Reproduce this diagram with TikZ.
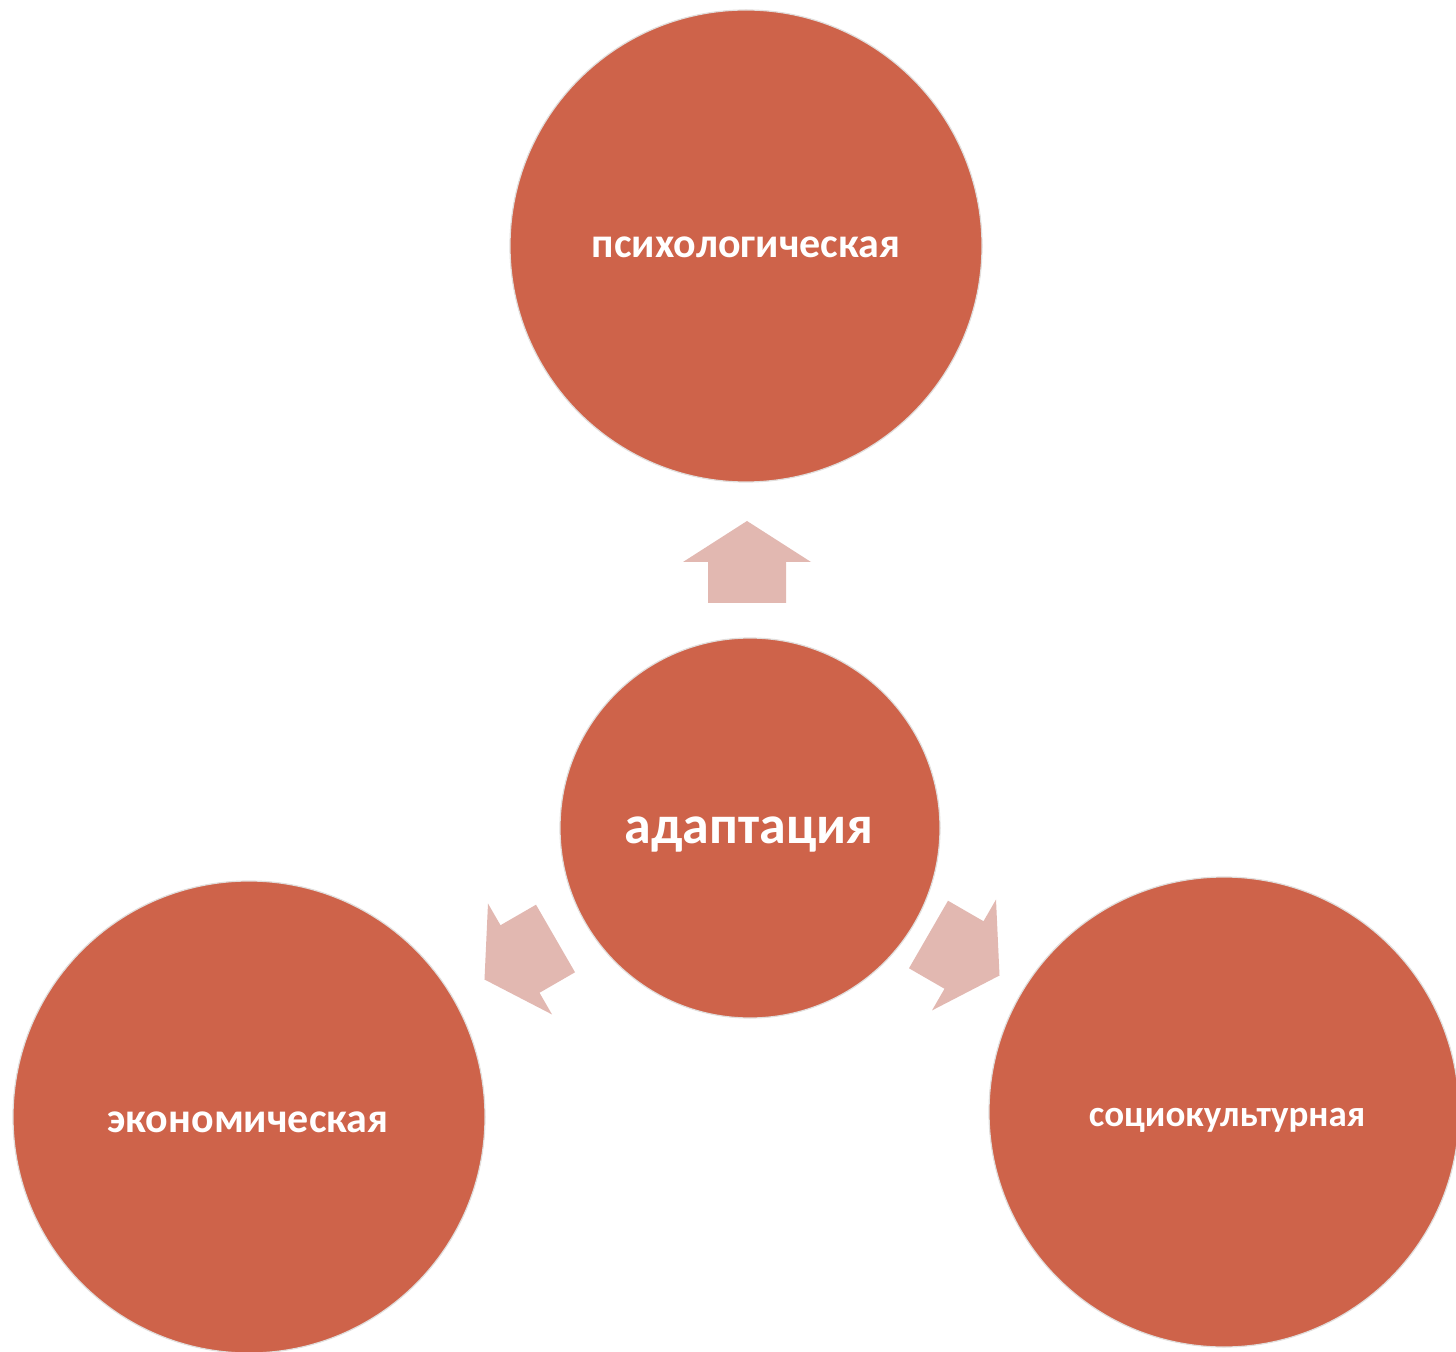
\documentclass[tikz,border=0pt]{standalone}
\usepackage{fontspec}
\setmainfont{Carlito}
\definecolor{circfill}{RGB}{206,99,74}
\definecolor{arrfill}{RGB}{226,184,177}
\definecolor{circline}{RGB}{225,222,220}
\tikzset{
  bubble/.style={circle, fill=circfill, draw=circline, line width=0.6pt, inner sep=0pt},
  lbl/.style={text=white, inner sep=0pt, anchor=mid},
  blockarrow/.style={fill=arrfill, draw=none},
}
\begin{document}
\begin{tikzpicture}[x=0.5pt,y=-0.5pt]
\useasboundingbox (0,0) rectangle (1456,1352);
\fill[white] (0,0) rectangle (1456,1352);
\node[bubble, minimum size=236pt] (top) at (746,246) {};
\node[bubble, minimum size=190pt] (center) at (750,828) {};
\node[bubble, minimum size=236pt] (left) at (249,1117) {};
\node[bubble, minimum size=235pt] (right) at (1224,1112) {};
\node[lbl, font=\bfseries\fontsize{21}{24}\selectfont] (toptext) at (746,253) {психологическая};
\node[lbl, font=\bfseries\fontsize{27}{30}\selectfont] (centertext) at (749,839) {адаптация};
\node[lbl, font=\bfseries\fontsize{21}{24}\selectfont] (lefttext) at (248,1128) {экономическая};
\node[lbl, font=\bfseries\fontsize{18.5}{21}\selectfont] (righttext) at (1227,1122) {социокультурная};
% block arrows
\foreach \name/\cx/\cy/\ang in {atop/747/562/90, aleft/520/959/-150, aright/964/955/-30}{
  \begin{scope}[shift={(\cx,\cy)}, rotate=\ang]
    \fill[blockarrow] (-41,-39) -- (0,-39) -- (0,-64) -- (41,0) -- (0,64) -- (0,39) -- (-41,39) -- cycle;
    \coordinate (\name) at (0,0);
  \end{scope}
}
\end{tikzpicture}
\end{document}
